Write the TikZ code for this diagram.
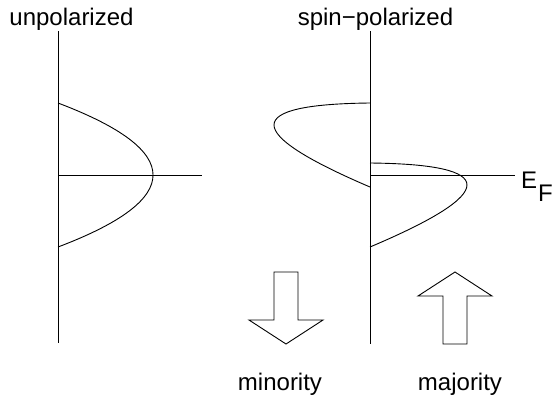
\documentclass[tikz,border=0pt]{standalone}
\usepackage{fontspec}
\setmainfont{Liberation Sans}
\begin{document}
\begin{tikzpicture}[x=1pt,y=-1pt,
  line/.style={line width=0.9pt,black},
  lbl/.style={inner sep=0pt,anchor=base,font=\fontsize{24}{28}\selectfont},
  arrowbox/.style={line width=0.9pt,draw=black,fill=white,line join=miter}]
\useasboundingbox (0,0) rectangle (554,400);
% axes
\coordinate (a1t) at (58,31);
\coordinate (a1b) at (58,343);
\coordinate (a2t) at (370,31);
\coordinate (a2b) at (370,344);
\draw[line] (a1t) -- (a1b);
\draw[line] (a2t) -- (a2b);
% Fermi level lines
\coordinate (f1a) at (58,175);
\coordinate (f1b) at (202,175);
\coordinate (f2a) at (370,175);
\coordinate (f2b) at (515,175);
\draw[line] (f1a) -- (f1b);
\draw[line] (f2a) -- (f2b);
% unpolarized DOS
\coordinate (u0) at (58,103);
\coordinate (u2) at (58,247);
\draw[line] (u0) .. controls (184.7,151) and (184.7,199) .. (u2);
% minority DOS
\coordinate (m0) at (370,103);
\coordinate (m2) at (370,187);
\draw[line] (m0) .. controls (242,104.3) and (242,132.3) .. (m2);
% majority DOS
\coordinate (j0) at (370,163);
\coordinate (j2) at (370,247);
\draw[line] (j0) .. controls (499.3,164.3) and (499.3,192.3) .. (j2);
% arrows
\draw[arrowbox] (274,272) -- (298,272) -- (298,320) -- (323,320) -- (286,344) -- (249,320) -- (274,320) -- cycle;
\draw[arrowbox] (443,344) -- (467,344) -- (467,296) -- (492,296) -- (455,272) -- (418,296) -- (443,296) -- cycle;
% labels
\node[lbl] (tu) at (71.5,25) {unpolarized};
\node[lbl] (ts) at (375.5,25) {spin−polarized};
\node[lbl] (tmin) at (280,390) {minority};
\node[lbl] (tmaj) at (460,390) {majority};
\node[lbl,anchor=base west] (tE) at (521,188) {E};
\node[lbl,anchor=base west] (tF) at (538,201) {F};
\end{tikzpicture}
\end{document}
